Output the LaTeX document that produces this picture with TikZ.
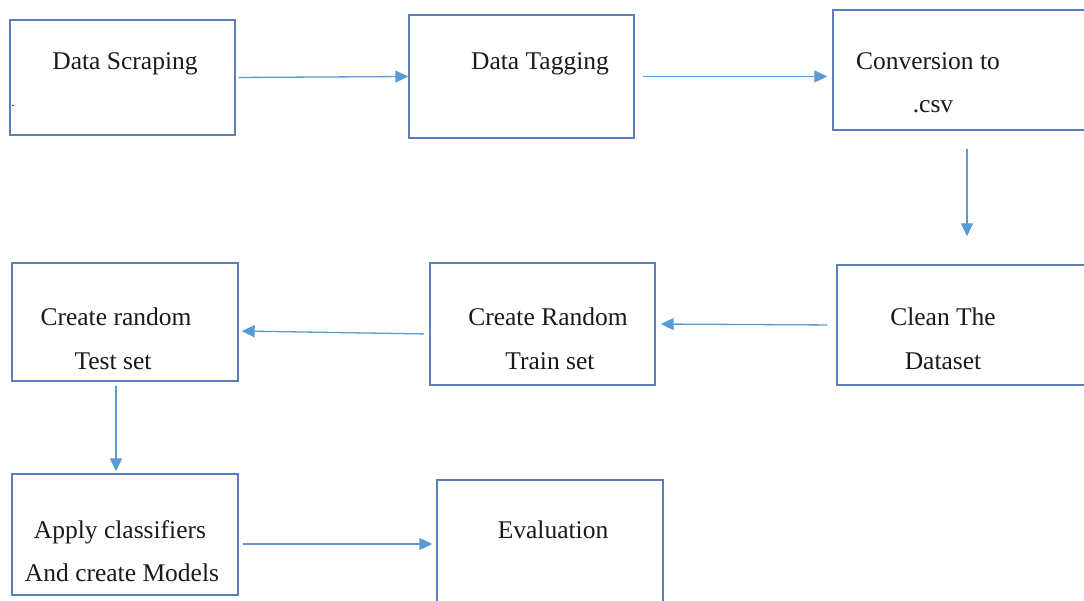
\documentclass[tikz,border=0pt]{standalone}
\usepackage{fontspec}
\setmainfont{Liberation Serif}
\usetikzlibrary{arrows.meta,calc}
\definecolor{boxblue}{HTML}{5B7FB4}
\definecolor{arrblue}{HTML}{5B9BD5}
\definecolor{txt}{HTML}{1A1A1A}
\tikzset{
  stepbox/.style={draw=boxblue,line width=1.4pt,rectangle,inner sep=0pt,fill=white},
  lbl/.style={anchor=base,inner sep=0pt,font=\fontsize{25.5}{30}\selectfont,text=txt},
  arr/.style={draw=arrblue,line width=1.3pt,-{Triangle[length=13pt,width=12pt]}},
}
\begin{document}
\begin{tikzpicture}[x=1pt,y=-1pt]
\useasboundingbox (0,0) rectangle (1084,601);
\clip (0,0) rectangle (1084,601);
\fill[white] (0,0) rectangle (1084,601);
% boxes
\node[stepbox,minimum width=225pt,minimum height=115pt] (b1) at (122.5,77.5) {};
\node[stepbox,minimum width=225pt,minimum height=123pt] (b2) at (521.5,76.5) {};
\node[stepbox,minimum width=280pt,minimum height=120pt] (b3) at (973,70) {};
\node[stepbox,minimum width=280pt,minimum height=120pt] (b4) at (977,325) {};
\node[stepbox,minimum width=225pt,minimum height=122pt] (b5) at (542.5,324) {};
\node[stepbox,minimum width=226pt,minimum height=118pt] (b6) at (125,322) {};
\node[stepbox,minimum width=226pt,minimum height=121pt] (b7) at (125,534.5) {};
\node[stepbox,minimum width=226pt,minimum height=150pt] (b8) at (550,555) {};
% labels
\node[lbl] (t1) at (125,70) {Data Scraping};
\node[lbl,font=\fontsize{14}{16}\selectfont] (t1b) at (13,107) {.};
\node[lbl] (t2) at (540,70) {Data Tagging};
\node[lbl] (t3a) at (928,70) {Conversion to};
\node[lbl] (t3b) at (933,113) {.csv};
\node[lbl] (t4a) at (943,326) {Clean The};
\node[lbl] (t4b) at (943,370) {Dataset};
\node[lbl] (t5a) at (548,326) {Create Random};
\node[lbl] (t5b) at (550,370) {Train set};
\node[lbl] (t6a) at (116,326) {Create random};
\node[lbl] (t6b) at (113,370) {Test set};
\node[lbl] (t7a) at (120,538) {Apply classifiers};
\node[lbl] (t7b) at (122,581) {And create Models};
\node[lbl] (t8) at (553,538) {Evaluation};
% connectors
\coordinate (c34) at (967,0);
\coordinate (c67) at (116,0);
\draw[arr,shorten <=3pt] (b1.east) -- (b2.west);
\draw[arr,shorten <=8pt,shorten >=5pt] (b2.east) -- (b2.east -| b3.west);
\draw[arr,shorten <=18pt,shorten >=28pt] (b3.south -| c34) -- (b4.north -| c34);
\draw[arr,shorten <=9pt,shorten >=5pt] (b4.west) -- (b5.east);
\draw[arr,shorten <=5pt,shorten >=3pt] ([yshift=-10pt]b5.west) -- ([yshift=-9pt]b6.east);
\draw[arr,shorten <=4pt,shorten >=2pt] (b6.south -| c67) -- (b7.north -| c67);
\draw[arr,shorten <=4pt,shorten >=4pt] ([yshift=-9.5pt]b7.east) -- ([yshift=-9.5pt]b7.east -| b8.west);
\end{tikzpicture}
\end{document}
